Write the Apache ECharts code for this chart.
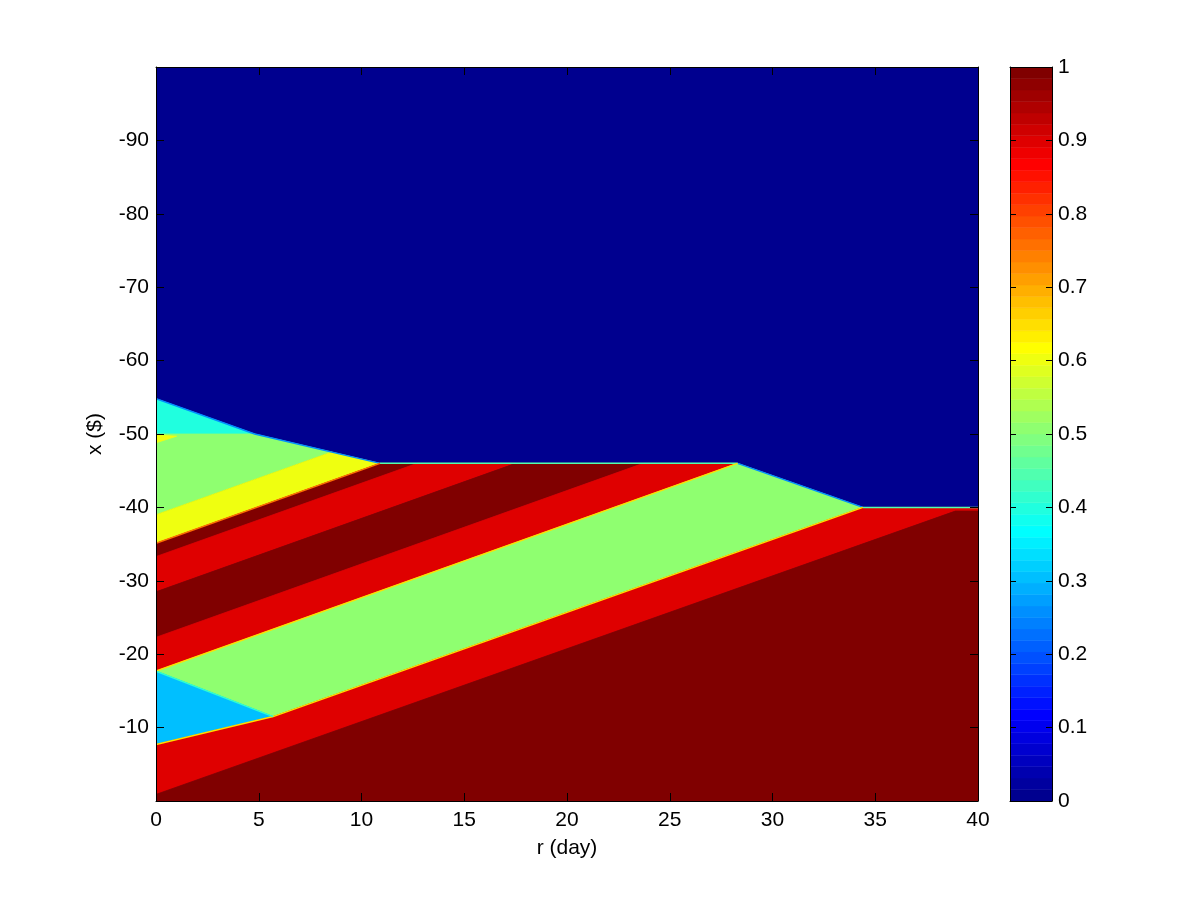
<!DOCTYPE html>
<html><head><meta charset="utf-8">
<script src="https://cdn.jsdelivr.net/npm/echarts@6/dist/echarts.min.js"></script>
<style>html,body{margin:0;padding:0;background:#fff}#c{width:1200px;height:900px}</style>
</head><body><div id="c"></div>
<script>
// ---- axis ranges / labels ----
const xRange = [0, 40];
const xStep = 5;
const yRange = [-100, 0];
const yStep = 10;
const cbRange = [0, 1];
const cbStep = 0.1;
const xName = 'r (day)';
const yName = 'x ($)';
const cbLevels = 64;

// ---- regions of constant value (r, x) ----
const regionValues = [0, 0.4, 0.5, 0.6, 0.6, 1, 0.9, 1, 0.9, 0.5, 0.3, 0.9, 1];
const regionPolygons = [
  [[0,-100],[40,-100],[40,0],[0,0]],
  [[0,-54.8],[4.8,-50],[0,-50]],
  [[0,-50],[4.8,-50],[8.54,-47.54],[0,-39]],
  [[0,-49.9],[1.0,-49.7],[0,-48.8]],
  [[0,-35.1],[0,-39],[8.54,-47.54],[10.9,-46]],
  [[0,-33.3],[0,-35.1],[10.9,-46],[12.7,-46]],
  [[0,-28.5],[0,-33.3],[12.7,-46],[17.5,-46]],
  [[0,-22.3],[0,-28.5],[17.5,-46],[23.7,-46]],
  [[0,-17.7],[0,-22.3],[23.7,-46],[28.3,-46]],
  [[0,-17.7],[28.3,-46],[34.4,-40],[5.7,-11.5]],
  [[0,-17.7],[5.7,-11.5],[0,-7.7]],
  [[0,-0.9],[0,-7.7],[5.7,-11.5],[34.4,-40],[40,-40],[40,-39.5],[38.9,-39.5]],
  [[0,0],[0,-0.9],[38.9,-39.5],[40,-39.5],[40,0]]
];

// ---- thin transition fringes along boundaries ----
const edgeValues = [0.25, 0.25, 0.45, 0.45, 0.65, 0.65, 0.75, 0.42];
const edgeLines = [
  [[0,-54.8],[4.8,-50],[10.9,-46]],
  [[28.3,-46],[34.4,-40]],
  [[10.9,-46],[28.3,-46]],
  [[34.4,-40],[40,-40]],
  [[0,-7.7],[5.7,-11.5],[34.4,-40]],
  [[0,-17.7],[28.3,-46]],
  [[0,-35.1],[10.9,-46]],
  [[0,-17.7],[5.7,-11.5]]
];

// MATLAB jet colormap
function jet(m) {
  const n = Math.ceil(m / 4);
  const u = [];
  for (let i = 1; i <= n; i++) u.push(i / n);
  for (let i = 1; i < n; i++) u.push(1);
  for (let i = n; i >= 1; i--) u.push(i / n);
  const off = Math.ceil(n / 2) - (m % 4 === 1 ? 1 : 0);
  const J = [];
  for (let i = 0; i < m; i++) J.push([0, 0, 0]);
  for (let k = 0; k < u.length; k++) {
    const g = off + k + 1, r = g + n, b = g - n;
    if (r >= 1 && r <= m) J[r - 1][0] = u[k];
    if (g >= 1 && g <= m) J[g - 1][1] = u[k];
    if (b >= 1 && b <= m) J[b - 1][2] = u[k];
  }
  return J.map(c => 'rgb(' + c.map(v => Math.round(v * 255)).join(',') + ')');
}
const cmap = jet(cbLevels);
function colorOf(v) {
  const t = (v - cbRange[0]) / (cbRange[1] - cbRange[0]);
  return cmap[Math.max(0, Math.min(cbLevels - 1, Math.floor(t * cbLevels)))];
}

const regionData = regionValues.map((v, i) => [i]);
const edgeData = edgeValues.map((v, i) => [i]);
const cbData = [];
for (let i = 0; i < cbLevels; i++) cbData.push([i]);

function renderRegion(params, api) {
  const i = api.value(0);
  const pts = regionPolygons[i].map(p => api.coord(p));
  const c = colorOf(regionValues[i]);
  return { type: 'polygon', shape: { points: pts }, style: { fill: c, stroke: c, lineWidth: 0.8 } };
}
function renderEdge(params, api) {
  const i = api.value(0);
  const pts = edgeLines[i].map(p => api.coord(p));
  return { type: 'polyline', shape: { points: pts }, style: { fill: null, stroke: colorOf(edgeValues[i]), lineWidth: 1.5 } };
}
function renderCell(params, api) {
  const i = api.value(0);
  const a = api.coord([0, cbRange[0] + (cbRange[1] - cbRange[0]) * i / cbLevels]);
  const b = api.coord([1, cbRange[0] + (cbRange[1] - cbRange[0]) * (i + 1) / cbLevels]);
  const c = cmap[i];
  return { type: 'rect', shape: { x: a[0], y: b[1], width: b[0] - a[0], height: a[1] - b[1] }, style: { fill: c, stroke: c, lineWidth: 0.5 } };
}

const FONT = 'Liberation Sans';
const FS = 21;
const line = { show: true, onZero: false, lineStyle: { color: '#000', width: 1 } };
const tick = len => ({ show: true, inside: true, length: len, lineStyle: { color: '#000', width: 1 } });
const noLabel = { show: false };
const lab = (margin, extra) => Object.assign({ color: '#000', fontSize: FS, fontFamily: FONT, margin: margin }, extra || {});

const chart = echarts.init(document.getElementById('c'), null, { renderer: 'canvas' });
chart.setOption({
  animation: false,
  backgroundColor: '#fff',
  grid: [
    { left: 156, right: 222, top: 67, bottom: 99, containLabel: false },
    { left: 1010, right: 148, top: 67, bottom: 99, containLabel: false }
  ],
  xAxis: [
    { gridIndex: 0, type: 'value', min: xRange[0], max: xRange[1], interval: xStep, position: 'bottom',
      axisLine: line, axisTick: tick(8), axisLabel: lab(9), splitLine: { show: false }, z: 10,
      name: xName, nameLocation: 'middle', nameGap: 37,
      nameTextStyle: { color: '#000', fontSize: FS, fontFamily: FONT } },
    { gridIndex: 0, type: 'value', min: xRange[0], max: xRange[1], interval: xStep, position: 'top',
      axisLine: line, axisTick: tick(8), axisLabel: noLabel, splitLine: { show: false }, z: 10 },
    { gridIndex: 1, type: 'value', min: 0, max: 1, position: 'bottom',
      axisLine: line, axisTick: { show: false }, axisLabel: noLabel, splitLine: { show: false }, z: 10 },
    { gridIndex: 1, type: 'value', min: 0, max: 1, position: 'top',
      axisLine: line, axisTick: { show: false }, axisLabel: noLabel, splitLine: { show: false }, z: 10 }
  ],
  yAxis: [
    { gridIndex: 0, type: 'value', min: yRange[0], max: yRange[1], interval: yStep, inverse: true, position: 'left',
      axisLine: line, axisTick: tick(8), axisLabel: lab(7, { showMinLabel: false, showMaxLabel: false }),
      splitLine: { show: false }, z: 10,
      name: yName, nameLocation: 'middle', nameGap: 50, nameRotate: 90,
      nameTextStyle: { color: '#000', fontSize: FS, fontFamily: FONT } },
    { gridIndex: 0, type: 'value', min: yRange[0], max: yRange[1], interval: yStep, inverse: true, position: 'right',
      axisLine: line, axisTick: tick(8), axisLabel: noLabel, splitLine: { show: false }, z: 10 },
    { gridIndex: 1, type: 'value', min: cbRange[0], max: cbRange[1], interval: cbStep, position: 'left',
      axisLine: line, axisTick: tick(6), axisLabel: noLabel, splitLine: { show: false }, z: 10 },
    { gridIndex: 1, type: 'value', min: cbRange[0], max: cbRange[1], interval: cbStep, position: 'right',
      axisLine: line, axisTick: tick(6), axisLabel: lab(6), splitLine: { show: false }, z: 10 }
  ],
  series: [
    { type: 'custom', name: 'regions', xAxisIndex: 0, yAxisIndex: 0, renderItem: renderRegion, data: regionData, clip: true, silent: true, z: 2 },
    { type: 'custom', name: 'edges', xAxisIndex: 0, yAxisIndex: 0, renderItem: renderEdge, data: edgeData, clip: true, silent: true, z: 3 },
    { type: 'custom', name: 'colorbar', xAxisIndex: 2, yAxisIndex: 2, renderItem: renderCell, data: cbData, clip: true, silent: true, z: 2 }
  ]
});
</script></body></html>
